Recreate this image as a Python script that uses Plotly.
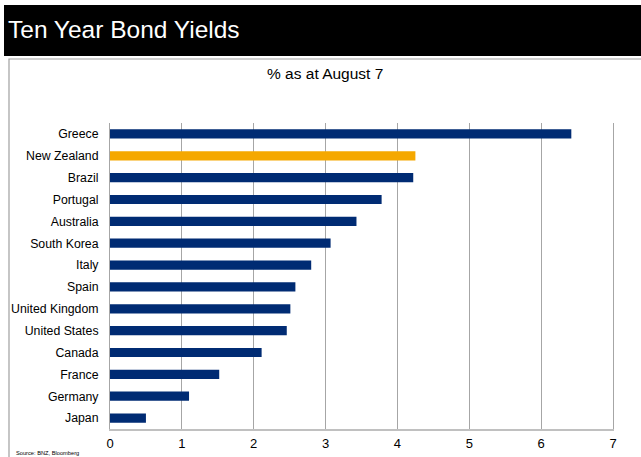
import plotly.graph_objects as go

countries = ["Greece", "New Zealand", "Brazil", "Portugal", "Australia", "South Korea",
             "Italy", "Spain", "United Kingdom", "United States", "Canada", "France",
             "Germany", "Japan"]
yields = [6.42, 4.25, 4.22, 3.78, 3.43, 3.07, 2.80, 2.58, 2.51, 2.46, 2.11, 1.52, 1.10, 0.50]
highlight = "New Zealand"
x_ticks = [0, 1, 2, 3, 4, 5, 6, 7]

NAVY = "#002B73"
ORANGE = "#F5A800"
colors = [ORANGE if c == highlight else NAVY for c in countries]

W, H = 641, 457
L, R, T, B = 110, 28, 123, 28
pw, ph = W - L - R, H - T - B

def px(x):
    return (x - L) / pw

def py(y):
    return (H - B - y) / ph

fig = go.Figure(go.Bar(
    x=yields, y=countries, orientation="h",
    marker=dict(color=colors, line=dict(width=0)),
    hoverinfo="x+y",
))

FONT = "Liberation Sans, Arial, sans-serif"

fig.update_layout(
    template="none",
    width=W, height=H,
    autosize=False,
    margin=dict(l=L, r=R, t=T, b=B, pad=0, autoexpand=False),
    paper_bgcolor="white", plot_bgcolor="white",
    bargap=0.58,
    showlegend=False,
    font=dict(family=FONT, color="#000000", size=12),
    xaxis=dict(
        range=[0, 7], tickvals=x_ticks, ticktext=[str(v) for v in x_ticks],
        showgrid=True, gridcolor="#A6A6A6", gridwidth=1,
        zeroline=False, automargin=False,
        showline=True, linecolor="#C0C0C0", linewidth=2,
        ticks="", ticklabelstandoff=1,
        tickfont=dict(size=13, family=FONT, color="#000"),
        fixedrange=True,
    ),
    yaxis=dict(
        categoryorder="array", categoryarray=countries, autorange="reversed",
        showgrid=False, zeroline=False, automargin=False,
        showline=True, linecolor="#A6A6A6", linewidth=1, mirror=True,
        ticks="", ticklabelstandoff=8,
        tickfont=dict(size=12.3, family=FONT, color="#000"),
        fixedrange=True,
    ),
    shapes=[
        dict(type="rect", xref="paper", yref="paper",
             x0=px(4), x1=px(645), y0=py(56), y1=py(5),
             fillcolor="black", line=dict(width=0), layer="below"),
        dict(type="rect", xref="paper", yref="paper",
             x0=px(9), x1=px(648), y0=py(465), y1=py(59),
             fillcolor="rgba(0,0,0,0)", line=dict(color="#A0A0A0", width=1.2), layer="below"),
    ],
    annotations=[
        dict(text="Ten Year Bond Yields", xref="paper", yref="paper",
             x=px(6), y=py(29), xanchor="left", yanchor="middle", showarrow=False,
             font=dict(size=24.5, color="white", family=FONT)),
        dict(text="% as at August 7", xref="paper", yref="paper",
             x=px(325), y=py(74), xanchor="center", yanchor="middle", showarrow=False,
             font=dict(size=15.5, color="#000", family=FONT)),
        dict(text="Source: BNZ, Bloomberg", xref="paper", yref="paper",
             x=px(14), y=py(453), xanchor="left", yanchor="middle", showarrow=False,
             font=dict(size=5.7, color="#000", family=FONT)),
    ],
)

fig.write_html("out.html", config={"displayModeBar": False},
               post_script="document.body.style.margin='0';")
